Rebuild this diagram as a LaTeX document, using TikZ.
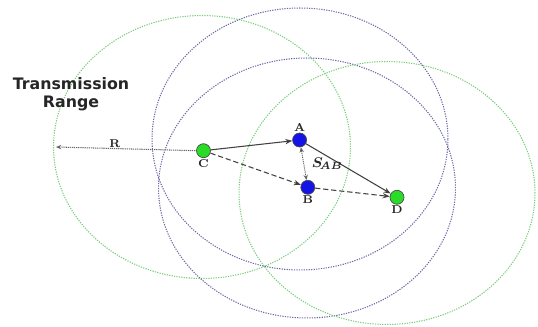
\documentclass[tikz,border=0pt]{standalone}
\usepackage{fontspec}
\newfontfamily\titlefont{DejaVu Sans}
\usetikzlibrary{arrows.meta}

\definecolor{rangegreen}{RGB}{120,205,120}
\definecolor{rangeblue}{RGB}{105,105,165}
\definecolor{nodegreen}{RGB}{40,220,40}
\definecolor{nodeblue}{RGB}{20,20,230}

\begin{document}
\begin{tikzpicture}[
    x=0.02cm,
    y=-0.02cm,
    station/.style={circle, draw=black!70, line width=0.4pt, inner sep=0pt, minimum size=0.28cm},
    greenstation/.style={station, fill=nodegreen},
    bluestation/.style={station, fill=nodeblue},
    nodelabel/.style={font=\fontsize{6.5}{7}\selectfont\bfseries, inner sep=0.5pt, text=black!85},
    rangering/.style={line width=0.6pt, dash pattern=on 0.7pt off 0.7pt},
    link/.style={-{Stealth[length=4pt, width=3pt]}, draw=black!75, line width=0.6pt},
    broken/.style={link, dash pattern=on 3pt off 1.6pt}
]

    \useasboundingbox (0,0) rectangle (538,327);

    % Centres of the transmission ranges
    \coordinate (rangeC) at (202,147);
    \coordinate (rangeA) at (300,139);
    \coordinate (rangeB) at (307,188);
    \coordinate (rangeD) at (387,193);

    % Draw the transmission ranges
    \draw[rangering, rangegreen] (rangeC) ellipse [x radius=2.97cm, y radius=2.63cm];
    \draw[rangering, rangeblue] (rangeA) ellipse [x radius=2.96cm, y radius=2.62cm];
    \draw[rangering, rangeblue] (rangeB) ellipse [x radius=2.97cm, y radius=2.60cm];
    \draw[rangering, rangegreen] (rangeD) ellipse [x radius=2.96cm, y radius=2.63cm];

    % Label the range
    \node[font=\titlefont\bfseries\fontsize{9}{10.5}\selectfont, align=center, text=black!85] (title) at (71,94) {Transmission\\Range};

    % Place the stations
    \node[greenstation, label={[nodelabel]below:C}] (C) at (203.5,150.7) {};
    \node[bluestation, label={[nodelabel]above:A}] (A) at (299.6,140) {};
    \node[bluestation, label={[nodelabel]below:B}] (B) at (307.8,187.3) {};
    \node[greenstation, label={[nodelabel]below:D}] (D) at (397,197.3) {};

    % Draw the radius
    \coordinate (edge) at (56,147);
    \draw[{Stealth[length=3pt, width=2.5pt]}-, black!60, line width=0.6pt, dash pattern=on 0.7pt off 0.5pt] (edge) -- (C.west)
        node[pos=0.42, above, nodelabel] {R};

    % Draw the links
    \draw[link] (C) -- (A);
    \draw[link] (A) -- (D);
    \draw[broken] (C) -- (B);
    \draw[broken] (B) -- (D);
    \draw[{Stealth[length=3pt, width=2.5pt]}-{Stealth[length=3pt, width=2.5pt]}, black!60, line width=0.5pt, dash pattern=on 0.7pt off 0.5pt] (B) -- (A)
        node[midway, right=1pt, font=\fontsize{8}{9}\selectfont\boldmath, text=black!85] {$S_{\!AB}$};

\end{tikzpicture}
\end{document}
